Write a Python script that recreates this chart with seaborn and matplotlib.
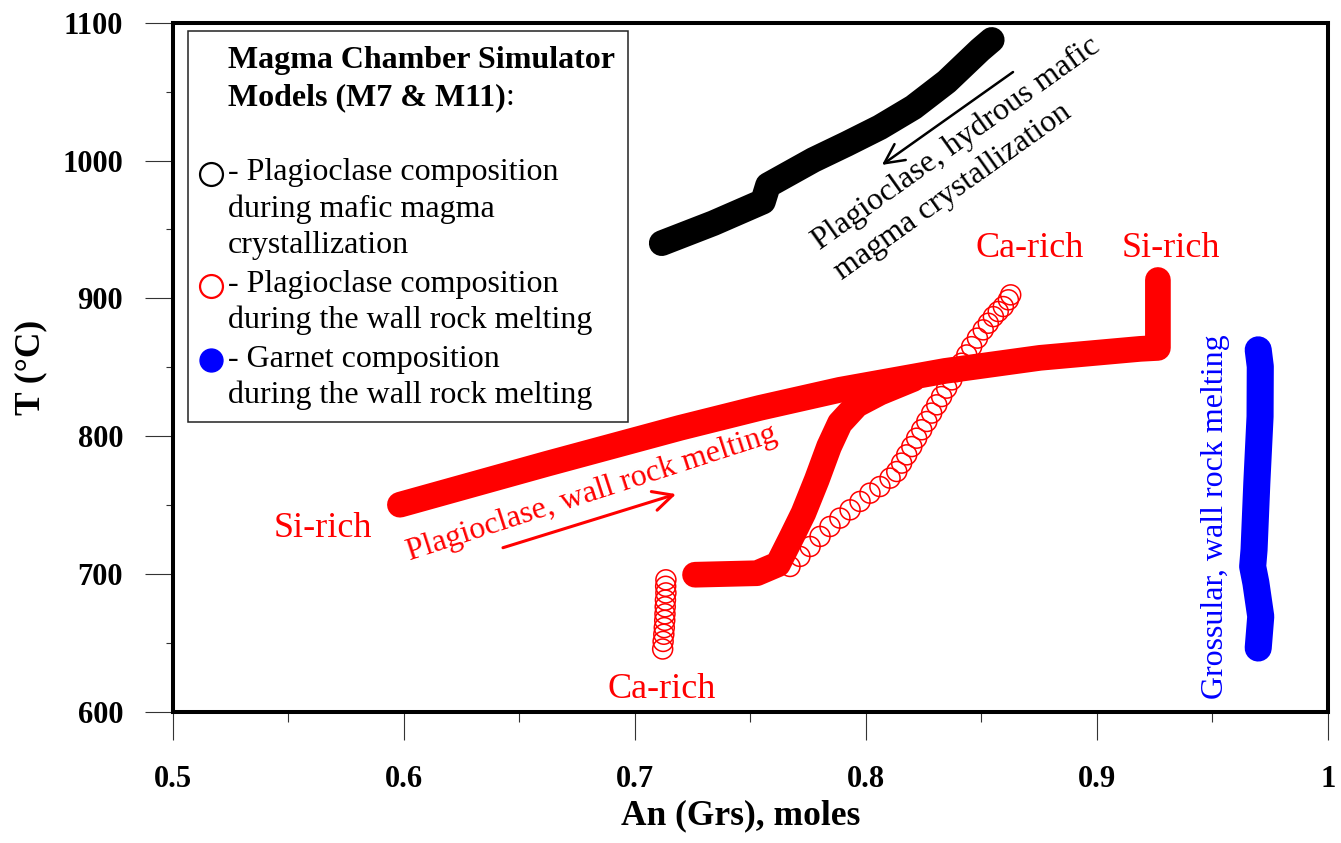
import pandas as pd
import seaborn as sns
import matplotlib.pyplot as plt
from matplotlib.lines import Line2D
from matplotlib.patches import Rectangle
from matplotlib.ticker import MultipleLocator, FuncFormatter

# Plagioclase during hydrous mafic magma crystallization (black band)
mafic_an = [0.7117, 0.734, 0.7555, 0.7577, 0.7773, 0.7917, 0.8061, 0.8206, 0.835, 0.8494, 0.8545]
mafic_t = [940.0, 954.5, 970.2, 982.1, 1000.4, 1012.0, 1024.1, 1038.6, 1057.2, 1080.2, 1087.5]

# Plagioclase during wall rock melting, Si-rich start (thick red band)
wall_an = [0.5984, 0.662, 0.7196, 0.7542, 0.7888, 0.8343, 0.8754, 0.9187, 0.9264, 0.9264]
wall_t = [750.2, 779.9, 806.0, 820.5, 833.6, 847.3, 856.8, 863.3, 864.0, 913.3]

# second wall rock melting path (thick red, from 700 C)
wall2_an = [0.7261, 0.7529, 0.7620, 0.7680, 0.7730, 0.7788, 0.7841, 0.7888, 0.7961,
            0.8061, 0.8206]
wall2_t = [699.4, 700.5, 707.0, 727.0, 744.1, 768.3, 792.4, 809.4, 822.7, 831.5, 841.5]

# Plagioclase open circles, Ca-rich chain (upper)
ca_an = [0.7672, 0.7715, 0.7759, 0.7802, 0.7845, 0.7888, 0.7932, 0.7975, 0.8018,
         0.8061, 0.8105, 0.8134, 0.8155, 0.8177, 0.8199, 0.8220, 0.8242, 0.8264,
         0.8285, 0.8307, 0.8328, 0.8350, 0.8372, 0.8393, 0.8415, 0.8437, 0.8458,
         0.8483, 0.8508, 0.8530, 0.8552, 0.8573, 0.8595, 0.8617, 0.8627]
ca_t = [705.4, 712.7, 719.9, 727.2, 734.4, 740.5, 746.5, 752.6, 758.6,
        763.4, 769.5, 774.3, 780.4, 786.4, 792.4, 798.5, 804.6, 810.6,
        816.7, 822.7, 828.7, 834.8, 840.8, 846.8, 852.9, 858.9, 864.9,
        871.1, 877.1, 881.9, 886.7, 890.4, 894.0, 898.9, 902.5]

# Plagioclase open circles, Ca-rich chain (lower)
ca2_an = [0.7135, 0.7134, 0.7135, 0.7133, 0.7132, 0.7131, 0.7130, 0.7128,
          0.7126, 0.7123, 0.7121]
ca2_t = [695.7, 691.0, 686.2, 681.0, 676.1, 671.0, 666.3, 661.0, 656.2, 651.0, 645.5]

# Garnet (grossular) during wall rock melting
grs_an = [0.9698, 0.9707, 0.9706, 0.9692, 0.9680, 0.9674, 0.9688, 0.9709, 0.9698]
grs_t = [862.6, 850.5, 814.2, 765.9, 717.5, 705.4, 693.4, 669.1, 646.2]

W, H = 1341, 843
sns.set_style("ticks")
plt.rcParams['font.family'] = ['Liberation Serif', 'DejaVu Serif']
plt.rcParams['text.color'] = 'black'
plt.rcParams['axes.labelcolor'] = 'black'
plt.rcParams['xtick.color'] = 'black'
plt.rcParams['ytick.color'] = 'black'

fig = plt.figure(figsize=(W / 100, H / 100), dpi=100)
ax = fig.add_axes([172.5 / W, 1 - 711.7 / H, (1328 - 172.5) / W, (711.7 - 22.7) / H])

band = dict(sort=False, estimator=None, linewidth=18.5, solid_capstyle='round',
            solid_joinstyle='round', ax=ax, legend=False)
sns.lineplot(x=mafic_an, y=mafic_t, color='black', **band)
sns.lineplot(x=wall_an, y=wall_t, color='#ff0000', **band)
sns.lineplot(x=wall2_an, y=wall2_t, color='#ff0000', **band)
sns.lineplot(x=grs_an, y=grs_t, color='#0000ff', **dict(band, linewidth=19.5))

circ = dict(marker='o', s=207, facecolor='none', edgecolor='#ff0000', linewidth=1.1,
            ax=ax, legend=False)
sns.scatterplot(x=ca_an, y=ca_t, **circ)
sns.scatterplot(x=ca2_an, y=ca2_t, **circ)

# axes, ticks
ax.set_xlim(0.5, 1.0)
ax.set_ylim(600, 1100)
ax.xaxis.set_major_locator(MultipleLocator(0.1))
ax.xaxis.set_minor_locator(MultipleLocator(0.05))
ax.yaxis.set_major_locator(MultipleLocator(100))
ax.yaxis.set_minor_locator(MultipleLocator(50))
ax.xaxis.set_major_formatter(FuncFormatter(lambda v, p: f"{v:g}"))
ax.tick_params(which='major', direction='out', length=20, width=0.8, color='#333333',
               labelsize=22, labelcolor='black')
ax.tick_params(axis='x', which='major', pad=18.5)
ax.tick_params(axis='y', which='major', pad=15.5)
ax.tick_params(axis='x', which='minor', direction='out', length=7, width=0.8, color='#333333')
ax.tick_params(axis='y', which='minor', direction='out', length=5, width=0.8, color='#333333')
plt.setp(ax.get_xticklabels() + ax.get_yticklabels(), fontweight='bold')
for s in ax.spines.values():
    s.set_visible(True)
    s.set_linewidth(2.9)
    s.set_color('black')

ax.set_xlabel("An (Grs), moles", fontsize=25.5, fontweight='bold')
ax.xaxis.set_label_coords(0.4916, -0.127)
ax.set_ylabel("T (°C)", fontsize=25.5, fontweight='bold')
ax.yaxis.set_label_coords(-0.108, 0.5)

# annotations
red = '#ff0000'
ax.text(0.8711, 930.0, "Ca-rich", color=red, fontsize=26, ha='center', va='baseline')
ax.text(0.9321, 930.0, "Si-rich", color=red, fontsize=26, ha='center', va='baseline')
ax.text(0.5651, 726.9, "Si-rich", color=red, fontsize=26, ha='center', va='baseline')
ax.text(0.7118, 610.2, "Ca-rich", color=red, fontsize=26, ha='center', va='baseline')
ax.text(0.6824, 753.1, "Plagioclase, wall rock melting", color=red, fontsize=23,
        rotation=18, rotation_mode='anchor', ha='center', va='baseline')
ax.text(0.7802, 935.1, "Plagioclase, hydrous mafic", color='black', fontsize=23,
        rotation=35.5, rotation_mode='anchor', ha='left', va='baseline')
ax.text(0.7895, 913.4, "magma crystallization", color='black', fontsize=23,
        rotation=35.5, rotation_mode='anchor', ha='left', va='baseline')
ax.text(0.9515, 741.4, "Grossular, wall rock melting", color='#0000ff', fontsize=23,
        rotation=90, ha='center', va='center')

ax.annotate("", xy=(0.8070, 996.8), xytext=(0.8637, 1064.2),
            arrowprops=dict(arrowstyle='->,head_length=0.7,head_width=0.35',
                            lw=1.8, color='black', mutation_scale=20, shrinkA=0, shrinkB=0))
ax.annotate("", xy=(0.7179, 757.9), xytext=(0.6430, 719.0),
            arrowprops=dict(arrowstyle='->,head_length=0.7,head_width=0.35',
                            lw=2.2, color=red, mutation_scale=20, shrinkA=0, shrinkB=0))


# legend box (drawn by hand, figure pixel positions)
def fx(px):
    return px / W


def fy(py):
    return 1 - py / H


fig.add_artist(Rectangle((fx(188), fy(422)), 440 / W, 391 / H, transform=fig.transFigure,
                         fill=False, lw=1.1, ec='#222222'))
fig.text(fx(228), fy(68), "Magma Chamber Simulator", fontsize=23, fontweight='bold',
         va='baseline')
t2 = fig.text(fx(228), fy(105), "Models (M7 & M11)", fontsize=23, fontweight='bold',
              va='baseline')
ax.annotate(":", xy=(1, 0), xycoords=t2, fontsize=23, ha='left', va='bottom')

body = [("- Plagioclase composition", 180), ("during mafic magma", 217),
        ("crystallization", 253), ("- Plagioclase composition", 292),
        ("during the wall rock melting", 328), ("- Garnet composition", 367),
        ("during the wall rock melting", 403)]
for txt, py in body:
    fig.text(fx(228), fy(py), txt, fontsize=23, va='baseline')

fig.add_artist(Line2D([fx(210.7)], [fy(174)], transform=fig.transFigure, marker='o', ms=16.5,
                      mfc='none', mec='black', mew=1.6, ls='none'))
fig.add_artist(Line2D([fx(210.7)], [fy(286)], transform=fig.transFigure, marker='o', ms=16.5,
                      mfc='none', mec=red, mew=1.6, ls='none'))
fig.add_artist(Line2D([fx(210.7)], [fy(360)], transform=fig.transFigure, marker='o', ms=16.5,
                      mfc='#0000ff', mec='#0000ff', mew=1.0, ls='none'))

fig.savefig("out.png", dpi=100)
